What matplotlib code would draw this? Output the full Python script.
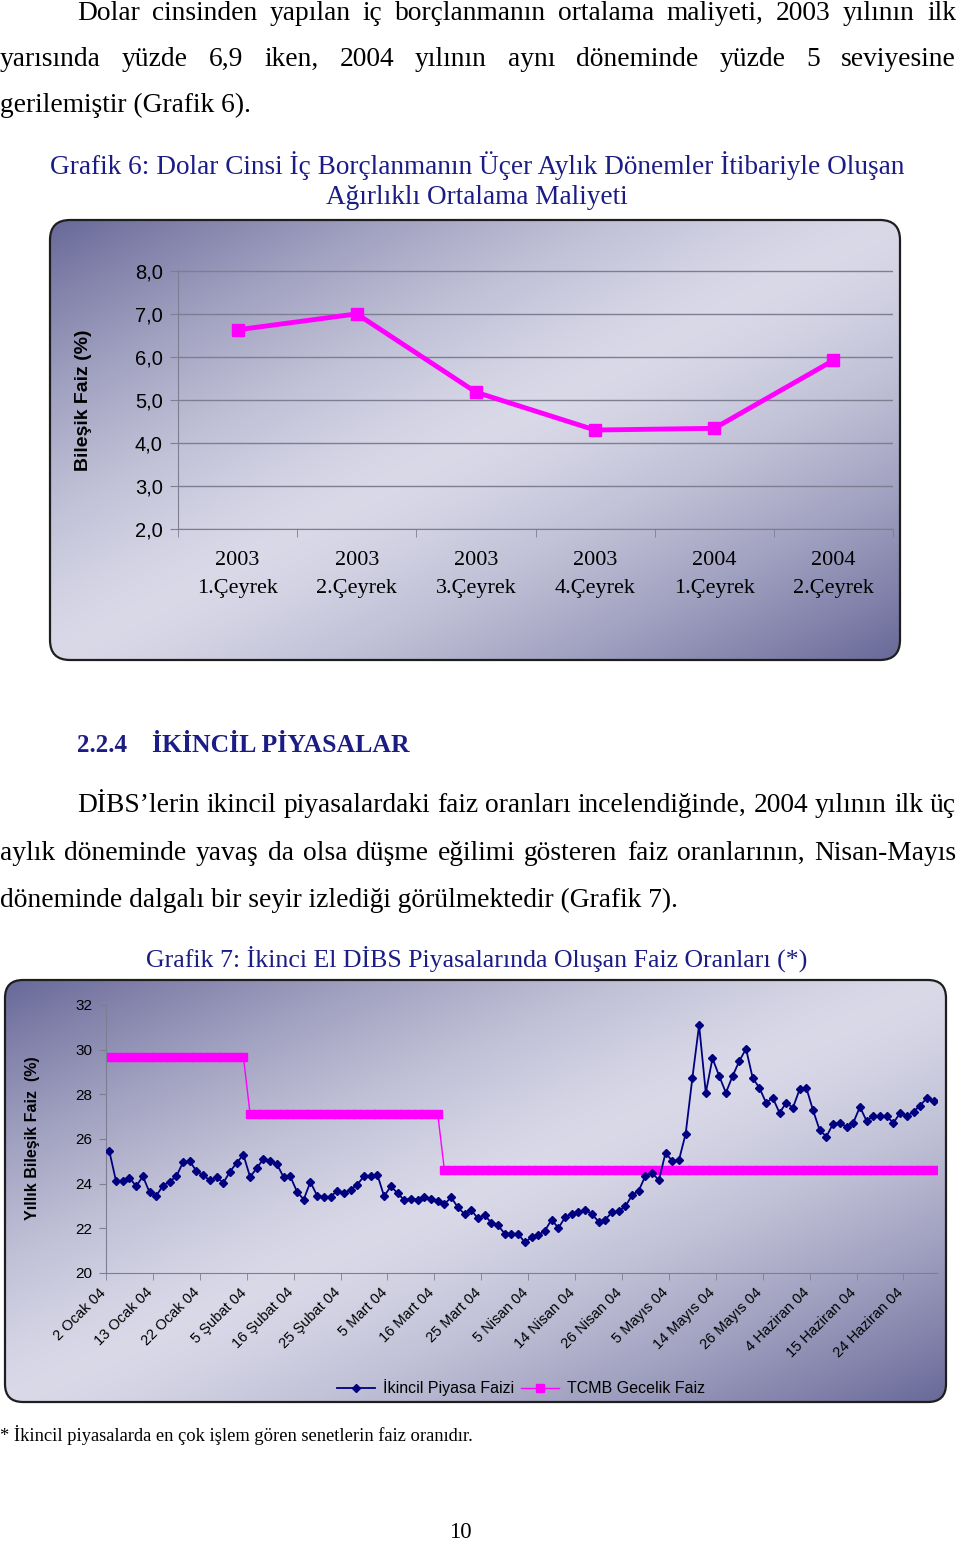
import numpy as np
import matplotlib.pyplot as plt
from matplotlib.patches import FancyBboxPatch
from matplotlib.transforms import ScaledTranslation

plt.rcParams['font.family'] = ['Liberation Sans', 'DejaVu Sans']

# --- Grafik 6 data ---
ceyrek_etiket = ['2003\n1.Çeyrek', '2003\n2.Çeyrek', '2003\n3.Çeyrek',
                 '2003\n4.Çeyrek', '2004\n1.Çeyrek', '2004\n2.Çeyrek']
maliyet = [6.63, 7.00, 5.18, 4.30, 4.34, 5.92]
maliyet_yticks = [2.0, 3.0, 4.0, 5.0, 6.0, 7.0, 8.0]

# --- Grafik 7 data (one value per business day, 2 Ocak - 30 Haziran 2004) ---
gun_etiket = ['2 Ocak 04', '13 Ocak 04', '22 Ocak 04', '5 Şubat 04', '16 Şubat 04',
              '25 Şubat 04', '5 Mart 04', '16 Mart 04', '25 Mart 04', '5 Nisan 04',
              '14 Nisan 04', '26 Nisan 04', '5 Mayıs 04', '14 Mayıs 04', '26 Mayıs 04',
              '4 Haziran 04', '15 Haziran 04', '24 Haziran 04']
etiket_gun_no = [0, 7, 14, 21, 28, 35, 42, 49, 56, 63, 70, 77, 84, 91, 98, 105, 112, 119]
piyasa_faizi = [
    25.45, 24.11, 24.10, 24.27, 23.88, 24.33, 23.61, 23.46, 23.91, 24.09,
    24.33, 24.96, 25.00, 24.56, 24.38, 24.15, 24.30, 24.03, 24.54, 24.93,
    25.30, 24.30, 24.69, 25.12, 25.00, 24.88, 24.29, 24.33, 23.64, 23.29,
    24.08, 23.46, 23.40, 23.42, 23.67, 23.58, 23.73, 23.96, 24.33, 24.33,
    24.39, 23.44, 23.88, 23.58, 23.26, 23.33, 23.29, 23.40, 23.31, 23.21,
    23.08, 23.39, 22.94, 22.64, 22.81, 22.45, 22.60, 22.24, 22.13, 21.76,
    21.76, 21.75, 21.37, 21.60, 21.69, 21.90, 22.39, 22.01, 22.49, 22.66,
    22.72, 22.84, 22.64, 22.30, 22.39, 22.72, 22.76, 22.99, 23.48, 23.69,
    24.36, 24.48, 24.15, 25.39, 25.00, 25.06, 26.24, 28.74, 31.10, 28.07,
    29.61, 28.82, 28.07, 28.82, 29.49, 30.04, 28.73, 28.29, 27.62, 27.84,
    27.17, 27.62, 27.40, 28.22, 28.29, 27.29, 26.39, 26.11, 26.69, 26.72,
    26.54, 26.72, 27.44, 26.80, 27.05, 27.02, 27.01, 26.72, 27.17, 27.02,
    27.22, 27.50, 27.84, 27.68]
tcmb_faizi = [
    29.69, 29.69, 29.69, 29.69, 29.69, 29.69, 29.69, 29.69, 29.69, 29.69,
    29.69, 29.69, 29.69, 29.69, 29.69, 29.69, 29.69, 29.69, 29.69, 29.69,
    29.69, 27.12, 27.12, 27.12, 27.12, 27.12, 27.12, 27.12, 27.12, 27.12,
    27.12, 27.12, 27.12, 27.12, 27.12, 27.12, 27.12, 27.12, 27.12, 27.12,
    27.12, 27.12, 27.12, 27.12, 27.12, 27.12, 27.12, 27.12, 27.12, 27.12,
    24.60, 24.60, 24.60, 24.60, 24.60, 24.60, 24.60, 24.60, 24.60, 24.60,
    24.60, 24.60, 24.60, 24.60, 24.60, 24.60, 24.60, 24.60, 24.60, 24.60,
    24.60, 24.60, 24.60, 24.60, 24.60, 24.60, 24.60, 24.60, 24.60, 24.60,
    24.60, 24.60, 24.60, 24.60, 24.60, 24.60, 24.60, 24.60, 24.60, 24.60,
    24.60, 24.60, 24.60, 24.60, 24.60, 24.60, 24.60, 24.60, 24.60, 24.60,
    24.60, 24.60, 24.60, 24.60, 24.60, 24.60, 24.60, 24.60, 24.60, 24.60,
    24.60, 24.60, 24.60, 24.60, 24.60, 24.60, 24.60, 24.60, 24.60, 24.60,
    24.60, 24.60, 24.60, 24.60]

W, H = 960, 1543
fig = plt.figure(figsize=(W / 100, H / 100), dpi=100)
fig.patch.set_facecolor('white')

# background axes in pixel coordinates (y goes down like the page)
ax_bg = fig.add_axes([0, 0, 1, 1], zorder=0)
ax_bg.axis('off')

light = np.array([0.85, 0.85, 0.91])
dark = np.array([0.41, 0.41, 0.60])


def panel(x0, y0, x1, y1, r):
    u = np.linspace(0, 1, 400)
    v = np.linspace(0, 1, 250)
    t = (u[None, :] + v[:, None]) / 2
    d = np.abs(2 * t - 1) ** 1.4
    img = light * (1 - d[..., None]) + dark * d[..., None]
    im = ax_bg.imshow(img, extent=(x0, x1, y1, y0), aspect='auto',
                      interpolation='bilinear', zorder=0)
    box = FancyBboxPatch((x0, y0), x1 - x0, y1 - y0,
                         boxstyle=f"round,pad=0,rounding_size={r}",
                         fc='none', ec='#1e1e1e', lw=1.6, zorder=2)
    ax_bg.add_patch(box)
    im.set_clip_path(box)


panel(50, 220, 900, 660, 20)
panel(5, 980, 946, 1402, 18)
ax_bg.set_xlim(0, W)
ax_bg.set_ylim(H, 0)

renderer = fig.canvas.get_renderer()
serif = 'Liberation Serif'
navy = '#1c1c86'


def justify(line, x0, x1, y, **kw):
    # spread the words of one line over x0..x1
    words = line.split()
    texts = [ax_bg.text(0, y, w, ha='left', va='center', **kw) for w in words]
    widths = [t.get_window_extent(renderer).width for t in texts]
    gap = (x1 - x0 - sum(widths)) / (len(words) - 1)
    x = x0
    for t, w in zip(texts, widths):
        t.set_x(x)
        x += w + gap


body = dict(fontfamily=serif, fontsize=19.8, color='black')
justify('Dolar cinsinden yapılan iç borçlanmanın ortalama maliyeti, 2003 yılının ilk',
        77, 956, 13, **body)
justify('yarısında yüzde 6,9 iken, 2004 yılının aynı döneminde yüzde 5 seviyesine',
        0, 956, 59, **body)
ax_bg.text(0, 105, 'gerilemiştir (Grafik 6).', ha='left', va='center', **body)

ax_bg.text(477, 166, 'Grafik 6: Dolar Cinsi İç Borçlanmanın Üçer Aylık Dönemler İtibariyle Oluşan',
           ha='center', va='center', fontfamily=serif, fontsize=19.6, color=navy)
ax_bg.text(477, 197, 'Ağırlıklı Ortalama Maliyeti',
           ha='center', va='center', fontfamily=serif, fontsize=19.6, color=navy)

ax_bg.text(77, 746, '2.2.4', ha='left', va='center', fontfamily=serif,
           fontsize=18, fontweight='bold', color=navy)
ax_bg.text(152, 746, 'İKİNCİL PİYASALAR', ha='left', va='center', fontfamily=serif,
           fontsize=18.5, fontweight='bold', color=navy)

justify('DİBS’lerin ikincil piyasalardaki faiz oranları incelendiğinde, 2004 yılının ilk üç',
        77, 956, 806, **body)
justify('aylık döneminde yavaş da olsa düşme eğilimi gösteren faiz oranlarının, Nisan-Mayıs',
        0, 956, 853, **body)
ax_bg.text(0, 900, 'döneminde dalgalı bir seyir izlediği görülmektedir (Grafik 7).',
           ha='left', va='center', **body)

ax_bg.text(477, 959, 'Grafik 7: İkinci El DİBS Piyasalarında Oluşan Faiz Oranları (*)',
           ha='center', va='center', fontfamily=serif, fontsize=18.6, color=navy)

ax_bg.text(0, 1435, '* İkincil piyasalarda en çok işlem gören senetlerin faiz oranıdır.',
           ha='left', va='center', fontfamily=serif, fontsize=13.3, color='black')
ax_bg.text(460, 1532, '10', ha='center', va='center', fontfamily=serif,
           fontsize=16.5, color='black')

# y axis titles
ax_bg.text(84, 400, 'Bileşik Faiz (%)', rotation=90, ha='center', va='center',
           fontsize=14, fontweight='bold', color='black')
ax_bg.text(33, 1138, 'Yıllık Bileşik Faiz  (%)', rotation=90, ha='center', va='center',
           fontsize=11.5, fontweight='bold', color='black')

gray = '#7e7e92'

# --- Grafik 6 ---
ax1 = fig.add_axes([178 / W, 1 - 529 / H, 715 / W, 259 / H], zorder=1)
ax1.set_facecolor('none')
x1 = np.arange(len(maliyet))
ax1.plot(x1, maliyet, color='#ff00ff', lw=3.5, marker='s', ms=9, zorder=3)
ax1.set_xlim(-0.5, len(maliyet) - 0.5)
ax1.set_ylim(2, 8.02)
ax1.set_yticks(maliyet_yticks)
ax1.set_yticklabels([f'{v:.1f}'.replace('.', ',') for v in maliyet_yticks])
ax1.yaxis.grid(True, color=gray, lw=1)
ax1.set_axisbelow(True)
for s in ['top', 'right']:
    ax1.spines[s].set_visible(False)
for s in ['left', 'bottom']:
    ax1.spines[s].set_color(gray)
ax1.tick_params(axis='y', length=6, color=gray, labelsize=14.5, pad=5)
ax1.set_xticks(x1)
ax1.set_xticklabels(ceyrek_etiket, fontfamily=serif, fontsize=16, linespacing=1.6)
ax1.tick_params(axis='x', which='major', length=0, pad=16)
ax1.set_xticks(np.arange(-0.5, len(maliyet), 1), minor=True)
ax1.tick_params(axis='x', which='minor', length=6, color=gray)

# --- Grafik 7 ---
ax2 = fig.add_axes([106 / W, 1 - 1273 / H, 831 / W, 268 / H], zorder=1)
ax2.set_facecolor('none')
gun = np.arange(len(piyasa_faizi))
l_tcmb, = ax2.plot(gun, tcmb_faizi, color='#ff00ff', lw=1, marker='s', ms=5.5,
                   mec='#ff00ff', label='TCMB Gecelik Faiz', zorder=2)
l_piy, = ax2.plot(gun, piyasa_faizi, color='#000080', lw=1.3, marker='D', ms=4,
                  label='İkincil Piyasa Faizi', zorder=3)
ax2.set_xlim(-0.5, len(gun) - 0.5)
ax2.set_ylim(20, 32)
ax2.set_yticks(range(20, 33, 2))
for s in ['top', 'right']:
    ax2.spines[s].set_visible(False)
for s in ['left', 'bottom']:
    ax2.spines[s].set_color(gray)
ax2.tick_params(axis='y', length=5, color=gray, labelsize=11, pad=5)
ax2.set_xticks(etiket_gun_no)
ax2.set_xticklabels(gun_etiket, rotation=45, ha='right', va='top',
                    rotation_mode='anchor', fontsize=10.5)
ax2.tick_params(axis='x', which='major', length=0, pad=9)
# labels sit a bit left of their day
kaydir = ScaledTranslation(-11 / 100, 0, fig.dpi_scale_trans)
for lab in ax2.get_xticklabels():
    lab.set_transform(lab.get_transform() + kaydir)
ax2.set_xticks(np.arange(-0.5, len(gun), 7), minor=True)
ax2.tick_params(axis='x', which='minor', length=5, color=gray)

ax2.legend(handles=[l_piy, l_tcmb], loc='center', ncol=2, frameon=False,
           bbox_to_anchor=(521 / W, 1 - 1388 / H), bbox_transform=fig.transFigure,
           fontsize=11.5, handlelength=2.4, handletextpad=0.5, columnspacing=0.4)

fig.savefig('out.png', dpi=100)
